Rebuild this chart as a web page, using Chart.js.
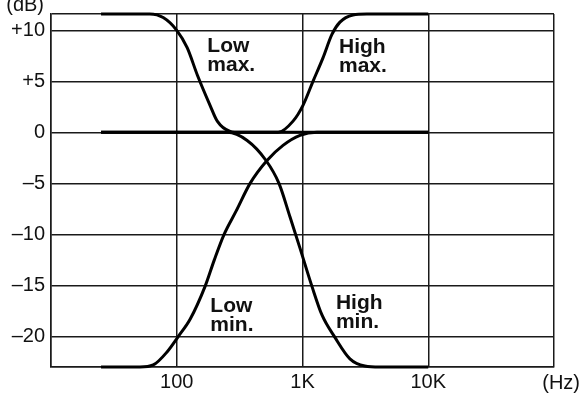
<!DOCTYPE html>
<html>
<head>
<meta charset="utf-8">
<script src="https://cdn.jsdelivr.net/npm/chart.js@4.4.1/dist/chart.umd.min.js"></script>
<style>
  html, body { margin: 0; padding: 0; background: #fff; }
</style>
</head>
<body>
<canvas id="eqChart" width="582" height="395"></canvas>
<script>
// axis ticks
const xTicks = [10, 100, 1000, 10000, 100000];
const xTickLabels = ['', '100', '1K', '10K', ''];
const yTicks = [-23, -20, -15, -10, -5, 0, 5, 10, 11.6];
const yTickLabels = ['', '–20', '–15', '–10', '–5', '0', '+5', '+10', ''];

// curves (Hz, dB)
const lowMaxFreq = [25, 61, 78, 100, 121, 146, 184, 210, 266, 320, 10000];
const lowMaxDb   = [11.6, 11.6, 11.25, 10, 8.3, 5.6, 2.65, 1.1, 0.1, 0, 0];

const highMaxFreq = [25, 640, 841, 1009, 1212, 1455, 1714, 1985, 2518, 3250, 10000];
const highMaxDb   = [0, 0, 1.1, 2.65, 5.0, 7.3, 9.6, 10.8, 11.5, 11.6, 11.6];

const lowMinFreq = [25, 51, 65, 84, 103, 128, 168, 199, 238, 297, 383, 522, 700, 955, 1303, 10000];
const lowMinDb   = [-23, -23, -22.8, -21.5, -20, -18.3, -15.1, -12.5, -10, -7.7, -5, -2.76, -1.28, -0.3, 0, 0];

const highMinFreq = [25, 252, 363, 513, 650, 796, 955, 1189, 1428, 1811, 2383, 3133, 4121, 10000];
const highMinDb   = [0, 0, -0.8, -2.76, -5.0, -8.3, -11.35, -15.1, -17.9, -20.1, -22.2, -22.9, -23, -23];

// curve labels (left edge, first-line baseline)
const noteText = [['Low', 'max.'], ['High', 'max.'], ['Low', 'min.'], ['High', 'min.']];
const noteFreq = [175, 1950, 185, 1845];
const noteDb   = [7.9, 7.8, -17.6, -17.3];

const FONT = '"Liberation Sans", Arial, Helvetica, sans-serif';
const INK = '#111';
const GRID = '#1a1a1a';

function toPoints(freqs, dbs) {
    return freqs.map((f, i) => ({ x: f, y: dbs[i] }));
}

function curve(freqs, dbs) {
    return {
        data: toPoints(freqs, dbs),
        borderColor: '#000',
        borderWidth: 3,
        pointRadius: 0,
        fill: false,
        cubicInterpolationMode: 'monotone',
        clip: 6
    };
}

const textPlugin = {
    id: 'texts',
    afterDraw(chart) {
        const { ctx, chartArea } = chart;
        const x = chart.scales.x;
        const y = chart.scales.y;
        ctx.save();
        ctx.fillStyle = INK;
        ctx.textBaseline = 'alphabetic';
        ctx.textAlign = 'left';
        ctx.font = 'bold 21px ' + FONT;
        noteText.forEach((lines, i) => {
            const px = x.getPixelForValue(noteFreq[i]);
            const py = y.getPixelForValue(noteDb[i]);
            lines.forEach((t, j) => ctx.fillText(t, px, py + j * 19));
        });
        // axis units
        ctx.font = '20px ' + FONT;
        ctx.textAlign = 'right';
        ctx.fillText('(dB)', chartArea.left - 7, 11);
        ctx.fillText('(Hz)', 580, 389);
        ctx.restore();
    }
};

const ctx = document.getElementById('eqChart').getContext('2d');
const eqChart = new Chart(ctx, {
    type: 'line',
    data: {
        datasets: [
            curve(lowMaxFreq, lowMaxDb),
            curve(highMaxFreq, highMaxDb),
            curve(lowMinFreq, lowMinDb),
            curve(highMinFreq, highMinDb)
        ]
    },
    options: {
        responsive: false,
        animation: false,
        devicePixelRatio: 1,
        layout: { padding: { top: 14, right: 28, left: 0, bottom: 0 } },
        plugins: {
            legend: { display: false },
            tooltip: { enabled: false }
        },
        scales: {
            x: {
                type: 'logarithmic',
                min: 10,
                max: 100000,
                afterBuildTicks: (s) => { s.ticks = xTicks.map(v => ({ value: v })); },
                afterFit: (s) => {
                    s.height = 28;
                    s.paddingLeft = 0;
                    s.paddingRight = 0;
                },
                grid: { color: GRID, lineWidth: 1.5, drawTicks: false },
                border: { display: true, color: GRID, width: 1.5 },
                ticks: {
                    autoSkip: false,
                    maxRotation: 0,
                    padding: 3,
                    color: INK,
                    font: { family: FONT, size: 20 },
                    callback: (v, i) => xTickLabels[i]
                }
            },
            y: {
                min: -23,
                max: 11.6,
                afterBuildTicks: (s) => { s.ticks = yTicks.map(v => ({ value: v })); },
                afterFit: (s) => {
                    s.width = 51;
                    s.paddingTop = 0;
                    s.paddingBottom = 0;
                },
                grid: { color: GRID, lineWidth: 1.5, drawTicks: false },
                border: { display: true, color: GRID, width: 1.5 },
                ticks: {
                    autoSkip: false,
                    padding: 6,
                    color: INK,
                    font: { family: FONT, size: 20 },
                    callback: (v, i) => yTickLabels[i]
                }
            }
        }
    },
    plugins: [textPlugin]
});
</script>
</body>
</html>
